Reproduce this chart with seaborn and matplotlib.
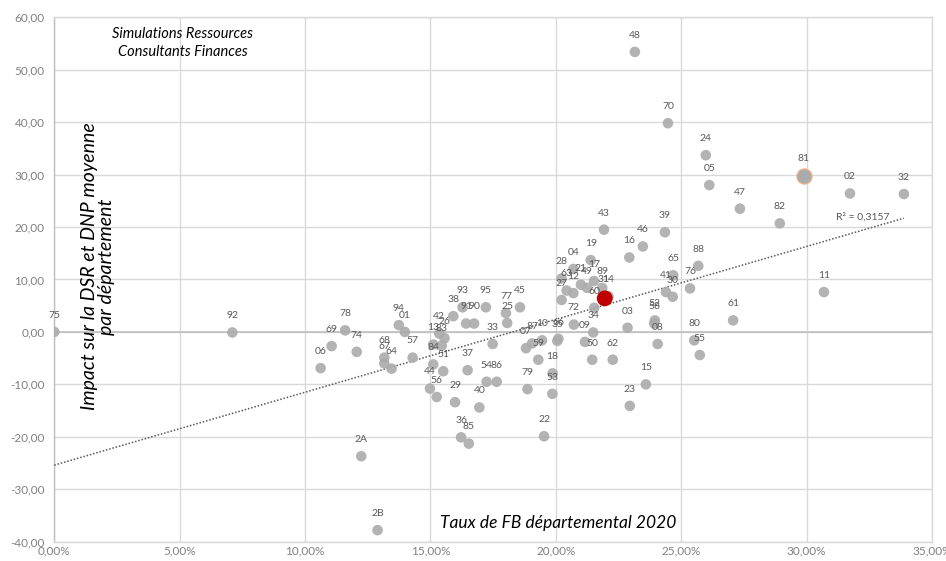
import matplotlib
matplotlib.use("Agg")
import matplotlib.pyplot as plt
import seaborn as sns
import pandas as pd
import numpy as np
from matplotlib.ticker import FuncFormatter

# ---------------- data ----------------
DEPTS = ["75", "92", "06", "69", "78", "74", "2A", "2B", "68", "67", "64", "94", "01", "57",
         "44", "13", "84", "56", "42", "83", "26", "51", "38", "29", "36", "93", "91", "37",
         "85", "90", "40", "95", "54", "33", "86", "77", "25", "45", "07", "79", "87", "59",
         "10", "22", "18", "53", "35", "66", "27", "28", "63", "04", "12", "72", "21", "09",
         "49", "19", "50", "34", "17", "60", "89", "31", "43", "14", "62", "03", "16", "23",
         "48", "46", "15", "52", "58", "08", "39", "41", "70", "30", "65", "76", "80", "88",
         "55", "24", "05", "61", "47", "82", "81", "11", "02", "32"]
TAUX_FB = [0.00, 7.10, 10.62, 11.06, 11.60, 12.06, 12.24, 12.89, 13.16, 13.16, 13.45, 13.74, 13.98, 14.29,
           14.98, 15.11, 15.11, 15.25, 15.35, 15.45, 15.56, 15.51, 15.91, 15.98, 16.22, 16.28, 16.42, 16.48,
           16.53, 16.74, 16.95, 17.21, 17.24, 17.48, 17.64, 18.01, 18.06, 18.57, 18.81, 18.87, 19.05, 19.30,
           19.45, 19.53, 19.87, 19.86, 20.06, 20.10, 20.23, 20.23, 20.43, 20.70, 20.70, 20.72, 21.00, 21.16,
           21.25, 21.39, 21.45, 21.49, 21.52, 21.53, 21.85, 21.90, 21.92, 22.10, 22.27, 22.86, 22.93, 22.95,
           23.15, 23.47, 23.59, 23.95, 23.92, 24.06, 24.35, 24.39, 24.47, 24.66, 24.68, 25.35, 25.52, 25.68,
           25.74, 25.98, 26.12, 27.07, 27.34, 28.93, 29.89, 30.69, 31.73, 33.88]
IMPACT = [0.0, -0.1, -6.9, -2.7, 0.3, -3.8, -23.7, -37.8, -4.9, -6.0, -7.0, 1.3, 0.0, -4.9,
          -10.8, -2.4, -6.2, -12.4, -0.3, -2.6, -1.2, -7.5, 3.0, -13.4, -20.1, 4.7, 1.6, -7.3,
          -21.3, 1.6, -14.4, 4.7, -9.5, -2.3, -9.5, 3.6, 1.7, 4.7, -3.1, -10.9, -2.2, -5.3,
          -1.6, -19.9, -7.9, -11.8, -1.7, -1.3, 6.1, 10.2, 7.9, 12.0, 7.4, 1.4, 9.0, -1.9,
          8.4, 13.7, -5.3, -0.1, 9.7, 4.6, 8.4, 6.8, 19.5, 6.8, -5.3, 0.8, 14.2, -14.1,
          53.4, 16.3, -10.0, 2.2, 1.6, -2.3, 19.0, 7.6, 39.8, 6.7, 10.8, 8.3, -1.6, 12.6,
          -4.4, 33.7, 28.0, 2.2, 23.5, 20.7, 29.8, 7.6, 26.4, 26.3]

HIGHLIGHT_X = [21.95]   # red point
HIGHLIGHT_Y = [6.4]
BIG_DEPT = "81"

TREND_INTERCEPT = -25.4
TREND_SLOPE = 1.39
R2_TEXT = "R² = 0,3157"

X_TICKS = [0, 5, 10, 15, 20, 25, 30, 35]
Y_TICKS = [-40, -30, -20, -10, 0, 10, 20, 30, 40, 50, 60]

TITLE_TEXT = "Simulations Ressources\nConsultants Finances"
YLABEL = "Impact sur la DSR et DNP moyenne\npar département"
XLABEL = "Taux de FB départemental 2020"

# ---------------- styling ----------------
sns.set_theme(style="white")
plt.rcParams["font.family"] = ["Lato", "DejaVu Sans"]

df = pd.DataFrame({"dept": DEPTS, "taux": TAUX_FB, "impact": IMPACT})

fig = plt.figure(figsize=(9.46, 5.61), dpi=100)
ax = fig.add_axes([0.0574, 0.0344, 0.9278, 0.9348])

GRID = "#D9D9D9"
POINT = "#ABABAB"

normal = df[df["dept"] != BIG_DEPT]
big = df[df["dept"] == BIG_DEPT]

sns.scatterplot(data=normal, x="taux", y="impact", ax=ax, s=58, color=POINT,
                edgecolor="none", alpha=0.9, zorder=4, legend=False)
sns.scatterplot(data=big, x="taux", y="impact", ax=ax, s=120, color=POINT,
                edgecolor="#F4B183", linewidth=0.8, zorder=4, legend=False)
sns.scatterplot(x=HIGHLIGHT_X, y=HIGHLIGHT_Y, ax=ax, s=130, color="#C00000",
                edgecolor="none", zorder=6, legend=False)

for d, x, y in zip(DEPTS, TAUX_FB, IMPACT):
    ax.annotate(d, (x, y), xytext=(0, 12), textcoords="offset points",
                ha="center", va="center", fontsize=7.5, color="#595959", zorder=5)

# trend line
xs = np.array([0.0, max(TAUX_FB)])
ax.plot(xs, TREND_INTERCEPT + TREND_SLOPE * xs, linestyle=(0, (1, 1.2)),
        color="#595959", linewidth=1.1, zorder=3)
fig.text(0.884, 0.613, R2_TEXT, fontsize=7.5, color="#595959", ha="left", va="center")

# axes
ax.set_xlim(0, 35)
ax.set_ylim(-40, 60)
ax.set_xticks(X_TICKS)
ax.set_yticks(Y_TICKS)
ax.xaxis.set_major_formatter(FuncFormatter(lambda v, p: f"{v:.2f}%".replace(".", ",")))
ax.yaxis.set_major_formatter(FuncFormatter(lambda v, p: f"{v:.2f}".replace(".", ",")))
ax.grid(True, color=GRID, linewidth=1.0, zorder=0)
ax.set_axisbelow(True)
ax.axhline(0, color="#BFBFBF", linewidth=1.2, zorder=1)
for side, sp in ax.spines.items():
    sp.set_visible(True)
    sp.set_color(GRID)
    sp.set_linewidth(1.0)
ax.spines["left"].set_color("#BFBFBF")
ax.tick_params(axis="both", length=0, labelsize=8.5, labelcolor="#808080")
ax.tick_params(axis="y", pad=7)
ax.tick_params(axis="x", pad=2.5)
ax.set_xlabel("")
ax.set_ylabel("")

fig.text(0.1934, 0.923, TITLE_TEXT, fontsize=10.5, style="italic", color="black",
         ha="center", va="center", linespacing=1.4)
fig.text(0.1036, 0.525, YLABEL, fontsize=14, style="italic", color="black",
         ha="center", va="center", rotation=90, linespacing=1.0, multialignment="center")
fig.text(0.590, 0.0677, XLABEL, fontsize=12.5, style="italic", color="black",
         ha="center", va="center")

fig.savefig("out.png", dpi=100)
